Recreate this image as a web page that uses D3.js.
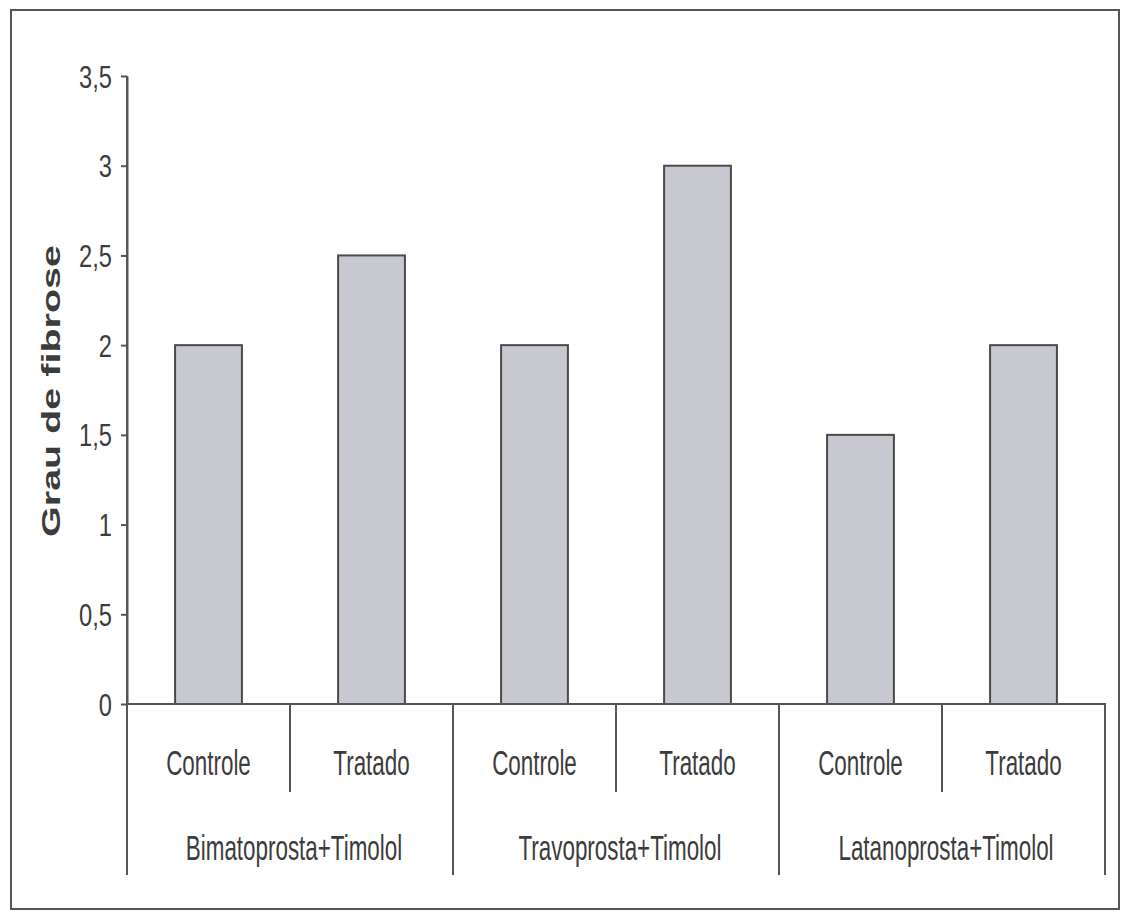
<!DOCTYPE html>
<html>
<head>
<meta charset="utf-8">
<script src="https://cdn.jsdelivr.net/npm/d3@7"></script>
<style>
  body { margin: 0; background: #fff; }
  text { font-family: "Liberation Sans", Arial, sans-serif; fill: #3c3c3c; }
</style>
</head>
<body>
<div id="chart"></div>
<script>
var width = 1125,
  height = 912;

// data
var groups = ['Bimatoprosta+Timolol', 'Travoprosta+Timolol', 'Latanoprosta+Timolol'];
var subgroups = ['Controle', 'Tratado'];
var values = [2, 2.5, 2, 3, 1.5, 2];
var yTicks = [0, 0.5, 1, 1.5, 2, 2.5, 3, 3.5];

var margin = {left: 127, right: 1105, top: 76, bottom: 704};
var squash = 0.64; // the scan is squeezed sideways

var svg = d3.select('#chart')
  .append('svg')
  .attr('width', width)
  .attr('height', height);

// outer frame
svg.append('rect')
  .attr('x', 11)
  .attr('y', 10)
  .attr('width', 1108)
  .attr('height', 899)
  .attr('fill', 'none')
  .attr('stroke', '#555')
  .attr('stroke-width', 2);

// one key per bar: group + subgroup
var cats = [];
groups.forEach(function(g) {
  subgroups.forEach(function(s) {
    cats.push(g + '|' + s);
  });
});

var x = d3.scaleBand()
  .domain(cats)
  .range([margin.left, margin.right])
  .paddingInner(0.59)
  .paddingOuter(0.295);

var y = d3.scaleLinear()
  .domain([0, 3.5])
  .range([margin.bottom, margin.top]);

// bars
svg.append('g')
  .selectAll('rect')
  .data(values)
  .join('rect')
  .attr('x', (d, i) => x(cats[i]))
  .attr('y', d => y(d))
  .attr('width', x.bandwidth())
  .attr('height', d => y(0) - y(d))
  .attr('fill', '#c7c8d0')
  .attr('stroke', '#4a4a4a')
  .attr('stroke-width', 2);

// y axis
var yAxis = svg.append('g')
  .attr('transform', 'translate(' + margin.left + ',0)')
  .call(d3.axisLeft(y)
    .tickValues(yTicks)
    .tickSize(6)
    .tickSizeOuter(0)
    .tickFormat(d => String(d).replace('.', ',')));

yAxis.select('.domain').attr('stroke', '#555').attr('stroke-width', 2);
yAxis.selectAll('.tick line').attr('stroke', '#555').attr('stroke-width', 2);
yAxis.selectAll('.tick text')
  .attr('x', null)
  .attr('dy', null)
  .attr('transform', 'translate(-15,11) scale(0.74,1)')
  .style('font-size', '32px')
  .attr('fill', '#3c3c3c');

// y label
svg.append('text')
  .attr('transform', 'translate(60,391) scale(' + squash + ',1) rotate(-90)')
  .attr('text-anchor', 'middle')
  .style('font-size', '39.5px')
  .style('font-weight', 'bold')
  .attr('fill', '#444')
  .text('Grau de fibrose');

// category table under the axis
var step = x.step();
var lines = svg.append('g')
  .attr('stroke', '#555')
  .attr('stroke-width', 2);

lines.append('line')
  .attr('x1', margin.left).attr('x2', margin.right + 1)
  .attr('y1', y(0)).attr('y2', y(0));

// separators inside a group
cats.forEach(function(c, i) {
  if (i % 2 === 1) {
    var sx = x(c) - x.paddingInner() * step / 2 - (step - x.bandwidth()) / 2 + x.paddingInner() * step / 2;
    lines.append('line')
      .attr('x1', sx).attr('x2', sx)
      .attr('y1', y(0)).attr('y2', 792);
  }
});

// group separators
d3.range(groups.length + 1).forEach(function(i) {
  var gx = margin.left + i * 2 * step;
  lines.append('line')
    .attr('x1', gx).attr('x2', gx)
    .attr('y1', margin.left === gx ? margin.top : y(0))
    .attr('y2', 875);
});

// subgroup labels
svg.append('g')
  .selectAll('text')
  .data(cats)
  .join('text')
  .attr('transform', d => 'translate(' + (x(d) + x.bandwidth() / 2) + ',775) scale(' + squash + ',1)')
  .attr('text-anchor', 'middle')
  .style('font-size', '35px')
  .text(d => d.split('|')[1]);

// group labels
svg.append('g')
  .selectAll('text')
  .data(groups)
  .join('text')
  .attr('transform', (d, i) => 'translate(' + (margin.left + (i * 2 + 1) * step + 4) + ',860) scale(' + squash + ',1)')
  .attr('text-anchor', 'middle')
  .style('font-size', '35px')
  .text(d => d);
</script>
</body>
</html>
